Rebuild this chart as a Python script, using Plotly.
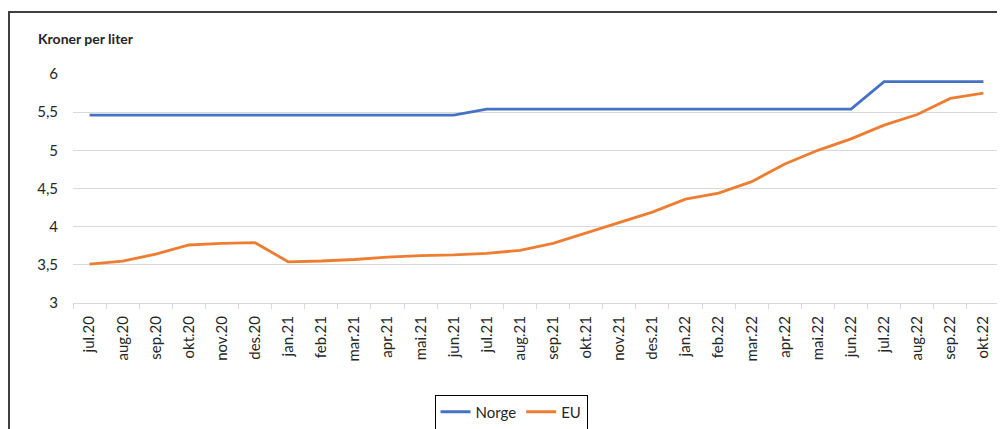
import plotly.graph_objects as go

# Måneder og priser (kroner per liter)
maaneder = [
    "jul.20", "aug.20", "sep.20", "okt.20", "nov.20", "des.20",
    "jan.21", "feb.21", "mar.21", "apr.21", "mai.21", "jun.21",
    "jul.21", "aug.21", "sep.21", "okt.21", "nov.21", "des.21",
    "jan.22", "feb.22", "mar.22", "apr.22", "mai.22", "jun.22",
    "jul.22", "aug.22", "sep.22", "okt.22",
]
norge = [
    5.46, 5.46, 5.46, 5.46, 5.46, 5.46,
    5.46, 5.46, 5.46, 5.46, 5.46, 5.46,
    5.54, 5.54, 5.54, 5.54, 5.54, 5.54,
    5.54, 5.54, 5.54, 5.54, 5.54, 5.54,
    5.90, 5.90, 5.90, 5.90,
]
eu = [
    3.51, 3.55, 3.64, 3.76, 3.78, 3.79,
    3.54, 3.55, 3.57, 3.60, 3.62, 3.63,
    3.65, 3.69, 3.78, 3.92, 4.06, 4.19,
    4.36, 4.44, 4.59, 4.82, 5.00, 5.15,
    5.33, 5.47, 5.68, 5.75,
]

# Siden har 8 px marg, så figuren flyttes tilsvarende
OFF = 8
W, H = 1005 - OFF, 429 - OFF
L, R, T, B = 73 - OFF, 13 - OFF, 74 - OFF, 126
pw, ph = W - L - R, H - T - B


def px_x(x):
    # skjermpiksel -> paper-koordinat
    return (x - OFF - L) / pw


def px_y(y):
    return (H - B - (y - OFF)) / ph


fig = go.Figure()

fig.add_trace(go.Scatter(
    x=maaneder, y=norge, mode="lines", name="Norge",
    line=dict(color="#4472C4", width=2.8),
))
fig.add_trace(go.Scatter(
    x=maaneder, y=eu, mode="lines", name="EU",
    line=dict(color="#ED7D31", width=2.8),
))

fig.update_layout(
    width=W, height=H,
    margin=dict(l=L, r=R, t=T, b=B, autoexpand=False),
    paper_bgcolor="white",
    plot_bgcolor="white",
    font=dict(family="Lato, Carlito, sans-serif", color="#262626"),
    xaxis=dict(
        type="category",
        tickangle=-90,
        tickfont=dict(size=15, color="#262626"),
        showgrid=False,
        showline=True,
        linecolor="#d9d9d9",
        linewidth=1,
        ticks="outside",
        tickson="boundaries",
        ticklen=5,
        tickcolor="#d9d9d9",
        ticklabelstandoff=6,
        range=[-0.5, len(maaneder) - 0.5],
    ),
    yaxis=dict(
        range=[3, 6],
        dtick=0.5,
        tickformat=".1~f",
        tickfont=dict(size=15, color="#262626"),
        showgrid=True,
        gridcolor="#d9d9d9",
        zeroline=False,
        ticks="",
        ticklabelstandoff=14,
    ),
    separators=",.",
    legend=dict(
        orientation="h",
        x=px_x(511), y=px_y(412),
        xanchor="center", yanchor="middle",
        bordercolor="#000000", borderwidth=1,
        font=dict(size=15, color="#262626"),
        itemwidth=30,
    ),
    showlegend=True,
)

fig.add_annotation(
    text="<b>Kroner per liter</b>",
    xref="paper", yref="paper",
    x=px_x(36), y=px_y(39),
    xanchor="left", yanchor="middle",
    showarrow=False,
    font=dict(size=14, color="#262626"),
)

# Ytre ramme rundt diagrammet
fig.add_shape(
    type="rect", xref="paper", yref="paper",
    x0=px_x(9), x1=px_x(1012), y0=px_y(12), y1=px_y(440),
    line=dict(color="#404040", width=2),
    fillcolor="rgba(0,0,0,0)",
    layer="below",
)

fig.write_html("out.html")
